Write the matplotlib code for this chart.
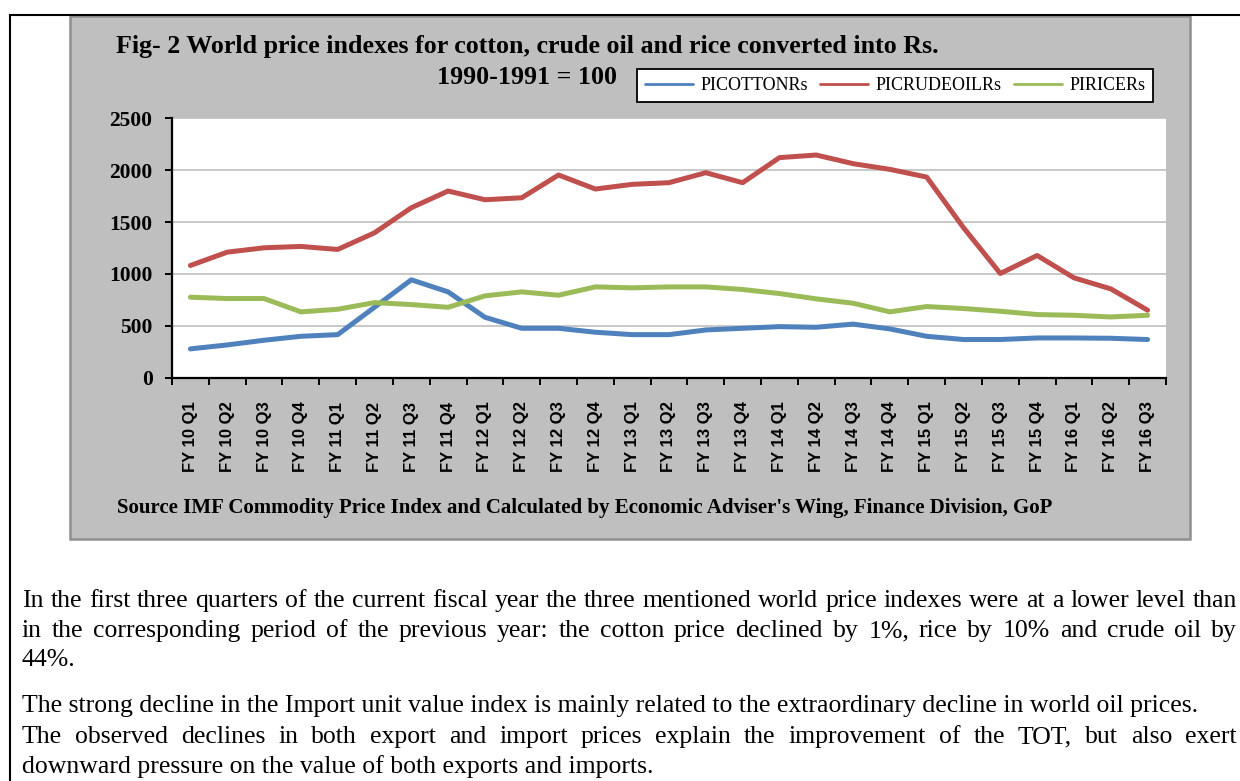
import matplotlib
matplotlib.use("Agg")
import matplotlib.pyplot as plt
from matplotlib.patches import Rectangle
from matplotlib.lines import Line2D

W, H = 1240, 781

quarters = [
    "FY 10 Q1", "FY 10 Q2", "FY 10 Q3", "FY 10 Q4",
    "FY 11 Q1", "FY 11 Q2", "FY 11 Q3", "FY 11 Q4",
    "FY 12 Q1", "FY 12 Q2", "FY 12 Q3", "FY 12 Q4",
    "FY 13 Q1", "FY 13 Q2", "FY 13 Q3", "FY 13 Q4",
    "FY 14 Q1", "FY 14 Q2", "FY 14 Q3", "FY 14 Q4",
    "FY 15 Q1", "FY 15 Q2", "FY 15 Q3", "FY 15 Q4",
    "FY 16 Q1", "FY 16 Q2", "FY 16 Q3",
]
cotton = [280, 318, 363, 401, 417, 680, 944, 828, 584, 478, 478, 440,
          417, 417, 462, 478, 494, 488, 518, 472, 401, 370, 370, 385,
          385, 382, 370]
crude_oil = [1082, 1210, 1252, 1265, 1236, 1396, 1637, 1798, 1714, 1733,
             1952, 1817, 1862, 1878, 1974, 1878, 2119, 2144, 2061, 2006,
             1932, 1445, 1005, 1178, 963, 857, 652]
rice = [777, 764, 764, 636, 661, 725, 706, 680, 790, 828, 796, 876,
        867, 876, 876, 851, 812, 761, 719, 636, 687, 668, 642, 610,
        603, 587, 603]

series_names = ["PICOTTONRs", "PICRUDEOILRs", "PIRICERs"]
series_colors = ["#4F81BD", "#C0504D", "#9BBB59"]

title_lines = ["Fig- 2 World price indexes for cotton, crude oil and rice converted into Rs.",
               "1990-1991 = 100"]
source_note = ("Source IMF Commodity Price Index and Calculated by Economic "
               "Adviser's Wing, Finance Division, GoP")
body_lines = [
    ("In the first three quarters of the current fiscal year the three mentioned "
     "world price indexes were at a lower level than", True),
    ("in the corresponding period of the previous year: the cotton price declined "
     "by 1%, rice by 10% and crude oil by", True),
    ("44%.", False),
    ("The strong decline in the Import unit value index is mainly related to the "
     "extraordinary decline in world oil prices.", False),
    ("The observed declines in both export and import prices explain the "
     "improvement of the TOT, but also exert", True),
    ("downward pressure on the value of both exports and imports.", False),
]
body_baseline = [607, 637, 666, 712, 743, 773]

SERIF = "Liberation Serif"
SANS = "Liberation Sans"
BODY_SIZE = 18.5


def fx(px):
    return px / W


def fy(py):
    return 1 - py / H


fig = plt.figure(figsize=(W / 100, H / 100), dpi=100, facecolor="white")

# page frame lines
fig.add_artist(Line2D([fx(10), fx(10)], [fy(15), fy(781)], color="black", lw=1.5,
                      transform=fig.transFigure))
fig.add_artist(Line2D([fx(10), fx(1240)], [fy(15), fy(15)], color="black", lw=1.5,
                      transform=fig.transFigure))

# grey chart box
fig.add_artist(Rectangle((fx(70), fy(539)), fx(1190) - fx(70), fy(16) - fy(539),
                         transform=fig.transFigure, facecolor="#BFBFBF",
                         edgecolor="#8F8F8F", lw=1.8, zorder=0))

ax = fig.add_axes([fx(172), fy(378), fx(1166) - fx(172), fy(118) - fy(378)])
ax.set_facecolor("white")
x = list(range(len(quarters)))
for vals, name, col in zip([cotton, crude_oil, rice], series_names, series_colors):
    ax.plot(x, vals, color=col, lw=3.6, label=name, solid_capstyle="round",
            solid_joinstyle="round")

ax.set_xlim(-0.5, len(quarters) - 0.5)
ax.set_ylim(0, 2500)
ax.set_yticks(range(0, 2501, 500))
ax.grid(True, axis="y", color="#BFBFBF", lw=1.2)
ax.set_axisbelow(True)
for side in ["top", "right"]:
    ax.spines[side].set_visible(False)
for side in ["left", "bottom"]:
    ax.spines[side].set_linewidth(1.6)
    ax.spines[side].set_color("black")

ax.set_xticks(x)
ax.set_xticklabels(quarters, rotation=90, fontsize=12, fontweight="bold",
                   family=SANS, va="top")
ax.set_xticks([i - 0.5 for i in range(len(quarters) + 1)], minor=True)
ax.tick_params(axis="x", which="major", length=0, pad=17)
ax.tick_params(axis="x", which="minor", length=5, width=1.4, direction="out")
ax.tick_params(axis="y", length=5, width=1.4, direction="out", pad=9)
for lbl in ax.get_yticklabels():
    lbl.set_fontsize(15.5)
    lbl.set_fontweight("bold")
    lbl.set_family(SERIF)

leg = ax.legend(loc="upper left", bbox_to_anchor=(fx(637), fy(69)),
                bbox_transform=fig.transFigure, ncol=3, frameon=True,
                fancybox=False, edgecolor="black", framealpha=1,
                prop={"family": SERIF, "size": 13}, handlelength=2.65,
                handletextpad=0.4, columnspacing=0.7, borderpad=0.45,
                borderaxespad=0)
leg.get_frame().set_linewidth(1.3)
for ln in leg.get_lines():
    ln.set_linewidth(2)

fig.text(fx(527), fy(47), title_lines[0], ha="center", va="center",
         family=SERIF, fontweight="bold", fontsize=18.75)
fig.text(fx(527), fy(78), title_lines[1], ha="center", va="center",
         family=SERIF, fontweight="bold", fontsize=18.75)
fig.text(fx(117), fy(508), source_note, ha="left", va="center",
         family=SERIF, fontweight="bold", fontsize=15)

# body paragraphs, justified where the source is
renderer = fig.canvas.get_renderer()
x0, x1 = 22, 1237
for (line, justify), ypx in zip(body_lines, body_baseline):
    if not justify:
        fig.text(fx(x0), fy(ypx), line, ha="left", va="baseline", family=SERIF,
                 fontsize=BODY_SIZE)
        continue
    words = line.split(" ")
    texts = [fig.text(0, fy(ypx), w, ha="left", va="baseline", family=SERIF,
                      fontsize=BODY_SIZE) for w in words]
    widths = [t.get_window_extent(renderer).width for t in texts]
    gap = (x1 - x0 - sum(widths)) / (len(words) - 1)
    pos = x0
    for t, wd in zip(texts, widths):
        t.set_x(fx(pos))
        pos += wd + gap

fig.savefig("out.png", dpi=100, facecolor="white")
